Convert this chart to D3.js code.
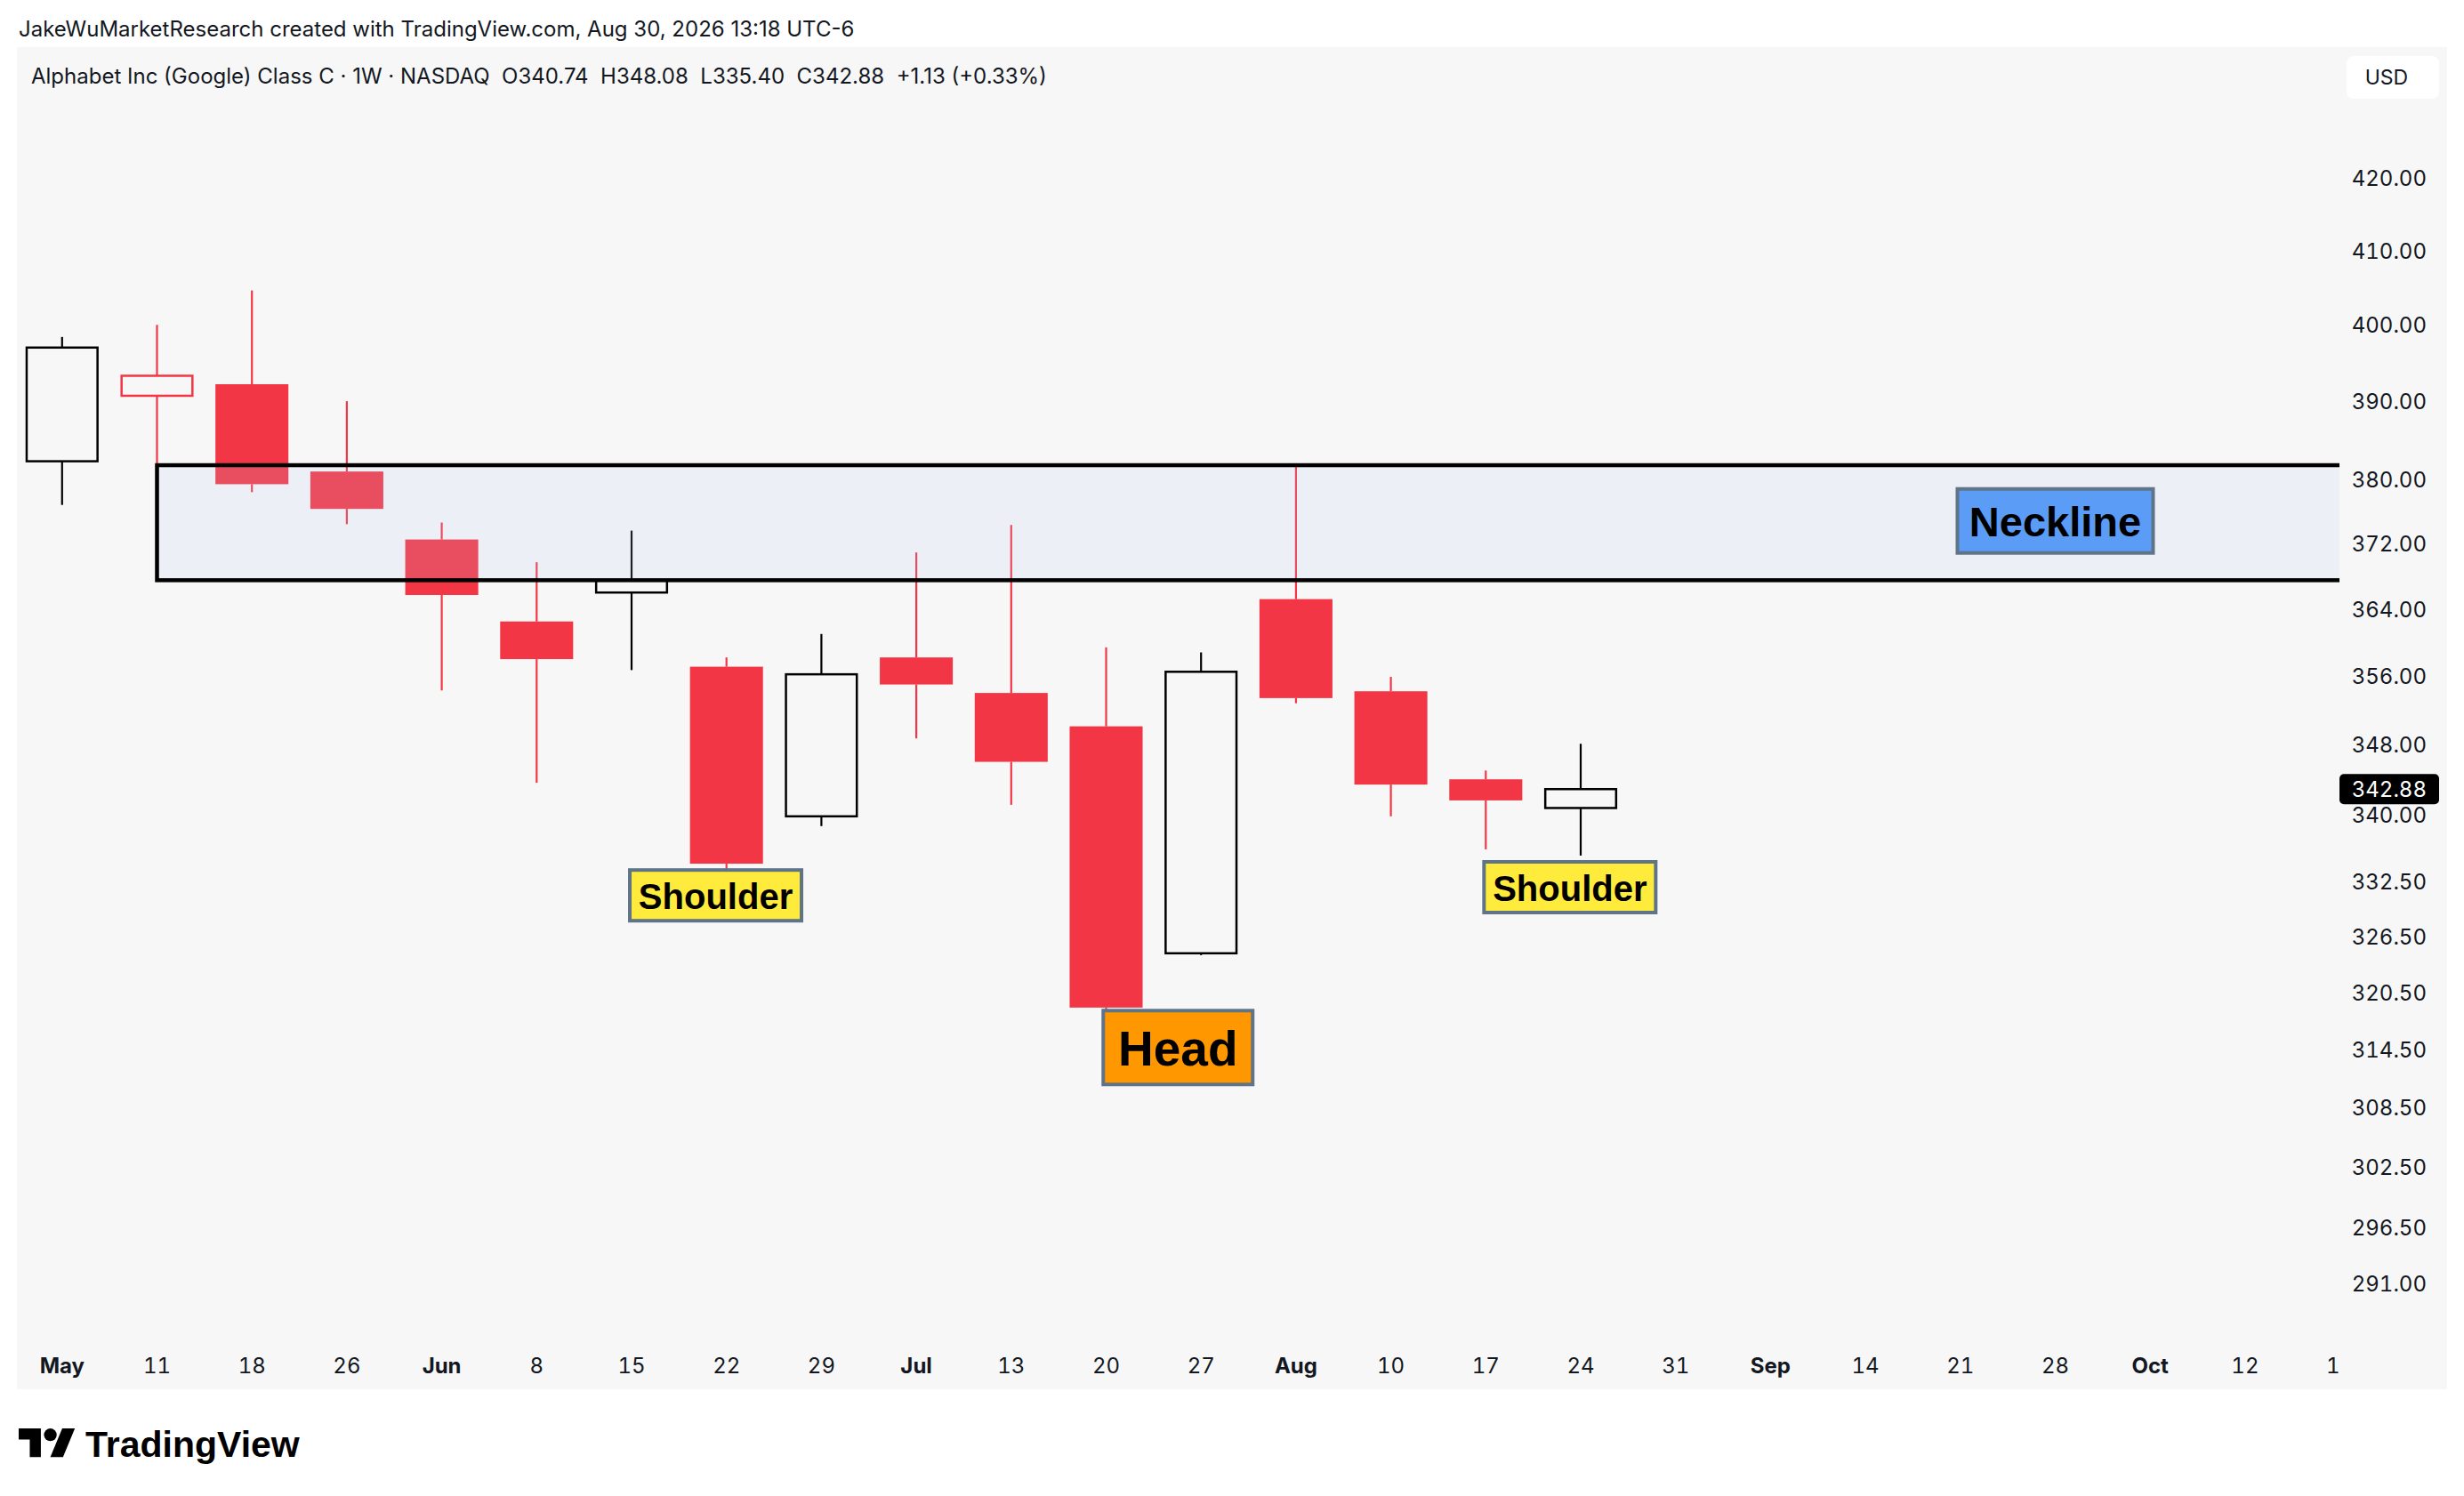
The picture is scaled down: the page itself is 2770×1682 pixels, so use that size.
<!DOCTYPE html>
<html>
<head>
<meta charset="utf-8">
<style>
  body { margin: 0; background: #ffffff; }
  svg { display: block; }
  text { font-family: Inter, "Noto Sans", sans-serif; fill: #131722; }
  .hdr { font-size: 24px; white-space: pre; }
  .num { font-variant-numeric: tabular-nums; }
  .note { font-family: "Liberation Sans", Arial, sans-serif; font-weight: 700; fill: #000; }
</style>
<script src="https://cdn.jsdelivr.net/npm/d3@7"></script>
</head>
<body>
<svg id="chart" width="2770" height="1682"></svg>
<script>
// weekly candles, GOOG, May - Aug
const weeks  = ["May","11","18","26","Jun","8","15","22","29","Jul","13","20","27","Aug","10","17","24","31","Sep","14","21","28","Oct","12","19"];
const months = ["May","Jun","Jul","Aug","Sep","Oct"];
const opens  = [382.3, 390.7, 392.2, 381.0, 372.5, 362.5, 366.0, 357.1, 339.8, 358.2, 354.0, 350.1, 324.7, 365.2, 354.2, 344.0, 340.74];
const highs  = [398.4, 400.0, 404.6, 390.0, 374.6, 369.7, 373.6, 358.2, 361.0, 370.9, 374.3, 359.4, 358.8, 381.7, 355.9, 345.0, 348.08];
const lows   = [376.8, 381.6, 378.4, 374.4, 354.3, 343.6, 356.7, 333.7, 338.7, 348.7, 341.1, 318.6, 324.5, 352.8, 339.8, 336.1, 335.40];
const closes = [397.0, 393.3, 379.4, 376.3, 365.7, 358.0, 367.5, 334.5, 356.2, 355.0, 346.0, 318.9, 356.5, 353.4, 343.4, 341.6, 342.88];
const priceTicks = [420, 410, 400, 390, 380, 372, 364, 356, 348, 340, 332.5, 326.5, 320.5, 314.5, 308.5, 302.5, 296.5, 291];

// neckline zone
const necklineLow = 367.5, necklineHigh = 381.8, necklineFrom = "11";

// pattern labels
const noteTexts  = ["Shoulder", "Head", "Shoulder", "Neckline"];
const noteWeeks  = ["22", "20", "24", "28"];
const notePrices = [331.0, 314.7, 331.9, 374.8];

const headerLine = "JakeWuMarketResearch created with TradingView.com, Aug 30, 2026 13:18 UTC-6";
const legendLine = "Alphabet Inc (Google) Class C · 1W · NASDAQ  O340.74  H348.08  L335.40  C342.88  +1.13 (+0.33%)";

const RED = "#f23645", BLACK = "#000000";
const plotRight = 2630, plotTop = 53, plotBottom = 1505;

const svg = d3.select("#chart");
const defs = svg.append("defs");

// header
svg.append("text").attr("class", "hdr").attr("x", 21).attr("y", 32)
   .attr("dominant-baseline", "central").text(headerLine);

// chart panel
svg.append("rect").attr("x", 19).attr("y", 53).attr("width", 2732).attr("height", 1509)
   .attr("fill", "#f7f7f7");

svg.append("text").attr("class", "hdr").attr("x", 35).attr("y", 85)
   .attr("dominant-baseline", "central").text(legendLine);

const x = d3.scaleBand().domain(weeks).range([16.45, 16.45 + 106.7 * weeks.length])
   .paddingInner(0.231).paddingOuter(0.1155);
const y = d3.scaleLog().domain([291, 420]).range([1443, 200]);
const cx = w => x(w) + x.bandwidth() / 2;

defs.append("clipPath").attr("id", "plotClip")
   .append("rect").attr("x", 19).attr("y", plotTop).attr("width", plotRight - 19).attr("height", plotBottom - plotTop);
defs.append("clipPath").attr("id", "timeClip")
   .append("rect").attr("x", 19).attr("y", plotBottom).attr("width", plotRight - 19).attr("height", 57);

const plot = svg.append("g").attr("clip-path", "url(#plotClip)");

const candles = closes.map((c, i) => ({
  week: weeks[i], o: opens[i], h: highs[i], l: lows[i], c: c,
  hollow: c > opens[i],
  color: (i === 0 || c >= closes[i - 1]) ? BLACK : RED
}));

const cg = plot.selectAll("g.candle").data(candles).enter().append("g").attr("class", "candle");

cg.append("line")
  .attr("x1", d => cx(d.week)).attr("x2", d => cx(d.week))
  .attr("y1", d => y(d.h)).attr("y2", d => y(Math.max(d.o, d.c)))
  .attr("stroke", d => d.color).attr("stroke-width", 2.2);
cg.append("line")
  .attr("x1", d => cx(d.week)).attr("x2", d => cx(d.week))
  .attr("y1", d => y(Math.min(d.o, d.c))).attr("y2", d => y(d.l))
  .attr("stroke", d => d.color).attr("stroke-width", 2.2);
cg.append("rect")
  .attr("x", d => x(d.week) + (d.hollow ? 1.2 : 0))
  .attr("width", d => x.bandwidth() - (d.hollow ? 2.4 : 0))
  .attr("y", d => y(Math.max(d.o, d.c)))
  .attr("height", d => Math.max(1, y(Math.min(d.o, d.c)) - y(Math.max(d.o, d.c))))
  .attr("fill", d => d.hollow ? "none" : d.color)
  .attr("stroke", d => d.hollow ? d.color : "none")
  .attr("stroke-width", 2.5);

// neckline zone box
const nx = cx(necklineFrom);
plot.append("rect")
  .attr("x", nx).attr("y", y(necklineHigh))
  .attr("width", plotRight + 20 - nx).attr("height", y(necklineLow) - y(necklineHigh))
  .attr("fill", "rgba(178,200,245,0.16)")
  .attr("stroke", "#000").attr("stroke-width", 4.5);

// pattern labels
const noteShift = [-0.114, 0.757, -0.114, 0.0];
const noteSize  = [[193, 57], [168, 83], [193, 57], [220, 72]];
const noteFont  = [40, 55, 40, 47];
const noteFill  = ["#ffeb3b", "#ff9800", "#ffeb3b", "#5b9cf6"];
const step = x.step();

const ng = plot.selectAll("g.note").data(noteTexts).enter().append("g").attr("class", "note-g")
  .attr("transform", (d, i) => `translate(${cx(noteWeeks[i]) + noteShift[i] * step},${y(notePrices[i])})`);
ng.append("rect")
  .attr("x", (d, i) => -noteSize[i][0] / 2).attr("y", (d, i) => -noteSize[i][1] / 2)
  .attr("width", (d, i) => noteSize[i][0]).attr("height", (d, i) => noteSize[i][1])
  .attr("fill", (d, i) => noteFill[i]).attr("stroke", "#5f7487").attr("stroke-width", 4);
ng.append("text").attr("class", "note")
  .attr("text-anchor", "middle").attr("dominant-baseline", "central").attr("y", 1)
  .style("font-size", (d, i) => noteFont[i] + "px")
  .text(d => d);

// price axis
const yAxis = svg.append("g").attr("transform", "translate(2728,0)")
  .call(d3.axisLeft(y).tickValues(priceTicks).tickFormat(d3.format(".2f"))
        .tickSizeInner(0).tickSizeOuter(0).tickPadding(0));
yAxis.select(".domain").remove();
yAxis.selectAll("text").attr("class", "num").attr("font-family", null).style("font-size", "24px")
  .attr("fill", null).attr("dy", null).attr("dominant-baseline", "central");

// time axis (outer group carries the clip so it stays in page coordinates)
const xAxis = svg.append("g").attr("clip-path", "url(#timeClip)")
  .append("g").attr("transform", "translate(0,1535)")
  .call(d3.axisBottom(x).tickSizeInner(0).tickSizeOuter(0).tickPadding(0));
xAxis.select(".domain").remove();
xAxis.selectAll("text").attr("class", "num").attr("font-family", null).style("font-size", "24px")
  .attr("fill", null).attr("y", 0).attr("dy", null).attr("dominant-baseline", "central")
  .style("font-weight", d => months.includes(d) ? 700 : 400);

// currency tag
svg.append("rect").attr("x", 2638).attr("y", 63).attr("width", 104).attr("height", 48)
   .attr("rx", 8).attr("fill", "#ffffff");
svg.append("text").attr("x", 2683).attr("y", 87).attr("text-anchor", "middle")
   .attr("dominant-baseline", "central").style("font-size", "23px").text("USD");

// last price tag
const last = closes[closes.length - 1];
svg.append("rect").attr("x", 2630).attr("y", y(last) - 17).attr("width", 112).attr("height", 34)
   .attr("rx", 5).attr("fill", "#000000");
svg.append("text").attr("class", "num").attr("x", 2728).attr("y", y(last)).attr("text-anchor", "end")
   .attr("dominant-baseline", "central").style("font-size", "24px").style("fill", "#ffffff")
   .text(d3.format(".2f")(last));

// TradingView wordmark
const logo = svg.append("g").attr("transform", "translate(21,1599) scale(1.78)");
logo.append("path").attr("d", "M14 22H7V11H0V4h14v18z").attr("fill", "#000");
logo.append("circle").attr("cx", 20).attr("cy", 8).attr("r", 4).attr("fill", "#000");
logo.append("path").attr("d", "M28 22h-8l7.5-18h8L28 22z").attr("fill", "#000");
svg.append("text").attr("x", 96).attr("y", 1638)
   .style("font-family", "'Liberation Sans', Arial, sans-serif").style("font-weight", 700)
   .style("font-size", "41px").style("fill", "#000").text("TradingView");
</script>
</body>
</html>
